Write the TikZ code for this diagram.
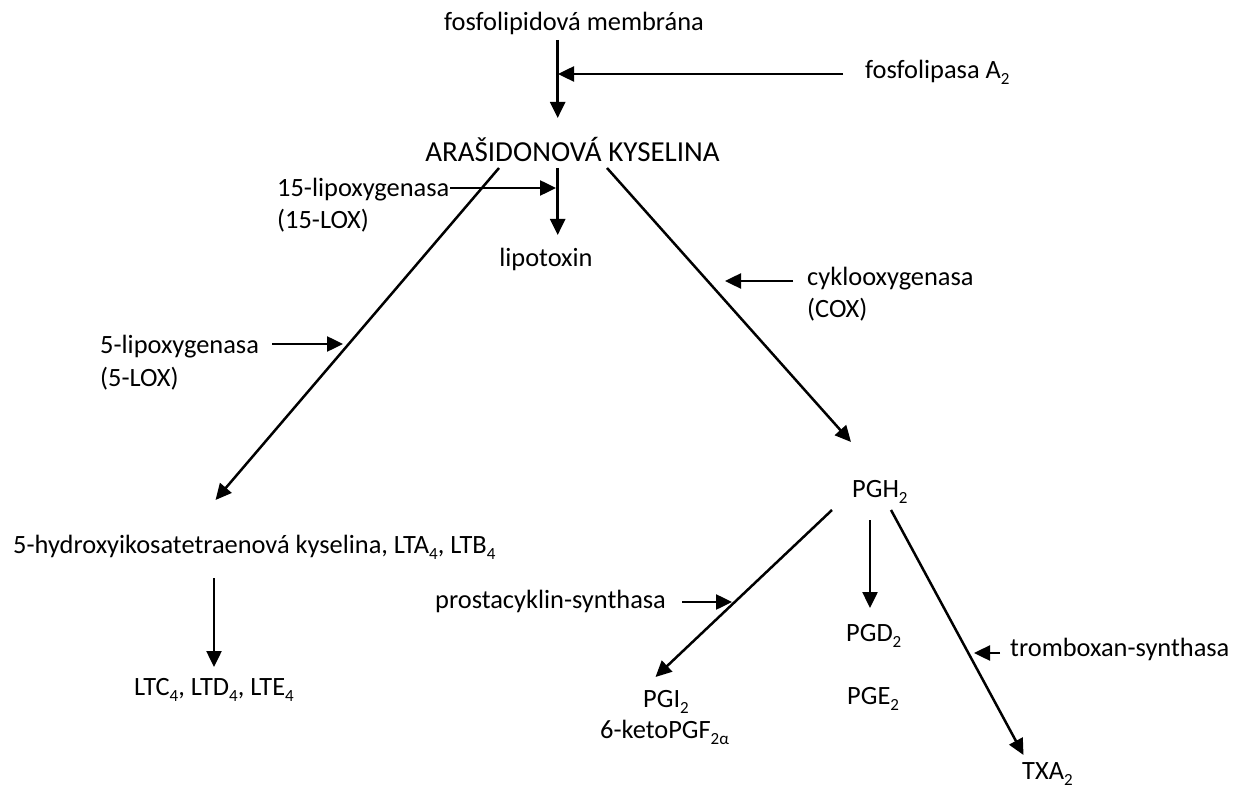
\documentclass[tikz,border=0pt]{standalone}
\usepackage{fontspec}
\setmainfont{Carlito}
\usetikzlibrary{arrows.meta}
\newcommand\sbs[1]{\raisebox{-0.22em}{\fontsize{17}{17}\selectfont #1}}
\begin{document}
\begin{tikzpicture}[x=1pt,y=-1pt,
  lbl/.style={inner sep=0pt,font=\fontsize{26.4}{31}\selectfont},
  big/.style={inner sep=0pt,font=\fontsize{29}{34}\selectfont},
  conn/.style={line width=2.5pt,-{Triangle[length=16pt,width=15pt]}}]
\useasboundingbox[fill=white] (0,0) rectangle (1244,791);
% nodes
\node[lbl,anchor=mid] (mem) at (574,28) {fosfolipidová membrána};
\node[lbl,anchor=mid west] (pla) at (865,76) {fosfolipasa A\sbs{2}};
\node[big,anchor=mid] (aa) at (572.5,159) {ARAŠIDONOVÁ KYSELINA};
\node[lbl,anchor=mid west] (lox15) at (277,194) {15-lipoxygenasa};
\node[lbl,anchor=mid west] (lox15b) at (277,226) {(15-LOX)};
\node[lbl,anchor=mid] (lipo) at (546,264) {lipotoxin};
\node[lbl,anchor=mid west] (cox) at (807,283) {cyklooxygenasa};
\node[lbl,anchor=mid west] (coxb) at (807,315) {(COX)};
\node[lbl,anchor=mid west] (lox5) at (100,351) {5-lipoxygenasa};
\node[lbl,anchor=mid west] (lox5b) at (100,384) {(5-LOX)};
\node[lbl,anchor=mid west] (hete) at (13,551) {5-hydroxyikosatetraenová kyselina, LTA\sbs{4}, LTB\sbs{4}};
\node[lbl,anchor=mid] (lt) at (214,693) {LTC\sbs{4}, LTD\sbs{4}, LTE\sbs{4}};
\node[lbl,anchor=mid west] (pgh) at (852,495) {PGH\sbs{2}};
\node[lbl,anchor=mid west] (prosta) at (435,606) {prostacyklin-synthasa};
\node[lbl,anchor=mid west] (pgd) at (846,639) {PGD\sbs{2}};
\node[lbl,anchor=mid west] (trom) at (1010,654) {tromboxan-synthasa};
\node[lbl,anchor=mid west] (pge) at (847,702) {PGE\sbs{2}};
\node[lbl,anchor=mid west] (pgi) at (643,705) {PGI\sbs{2}};
\node[lbl,anchor=mid west] (keto) at (600,736) {6-ketoPGF\sbs{2α}};
\node[lbl,anchor=mid west] (txa) at (1022,777) {TXA\sbs{2}};
% coordinates
\coordinate (memout) at (557.7,40);
\coordinate (aain) at (557.7,118);
\coordinate (j1) at (558,74);
\coordinate (plaout) at (843,74);
\coordinate (aal) at (499,168);
\coordinate (aac) at (557.7,168);
\coordinate (aar) at (607,168);
\coordinate (lipoin) at (557.7,235);
\coordinate (l15s) at (450,188);
\coordinate (l15e) at (556,188);
\coordinate (heteIn) at (215.5,500);
\coordinate (l5s) at (272,344);
\coordinate (l5e) at (343,344);
\coordinate (pghin) at (851,442);
\coordinate (coxs) at (793,281);
\coordinate (coxe) at (725,281);
\coordinate (heteout) at (214,578);
\coordinate (ltin) at (214,667);
\coordinate (pghl) at (832,510);
\coordinate (pgiin) at (655.5,677);
\coordinate (prs) at (682,602);
\coordinate (pre) at (732,602);
\coordinate (pghc) at (870,520);
\coordinate (pgdin) at (870,608);
\coordinate (pghr) at (891,510);
\coordinate (txain) at (1023.5,755);
\coordinate (trs) at (1000,653);
\coordinate (tre) at (974,653);
% connectors
\draw[conn] (memout) -- (aain);
\draw[conn] (plaout) -- (j1);
\draw[conn] (aal) -- (heteIn);
\draw[conn] (l15s) -- (l15e);
\draw[conn] (aac) -- (lipoin);
\draw[conn] (l5s) -- (l5e);
\draw[conn] (aar) -- (pghin);
\draw[conn] (coxs) -- (coxe);
\draw[conn] (heteout) -- (ltin);
\draw[conn] (pghl) -- (pgiin);
\draw[conn] (prs) -- (pre);
\draw[conn] (pghc) -- (pgdin);
\draw[conn] (pghr) -- (txain);
\draw[conn] (trs) -- (tre);
\end{tikzpicture}
\end{document}
